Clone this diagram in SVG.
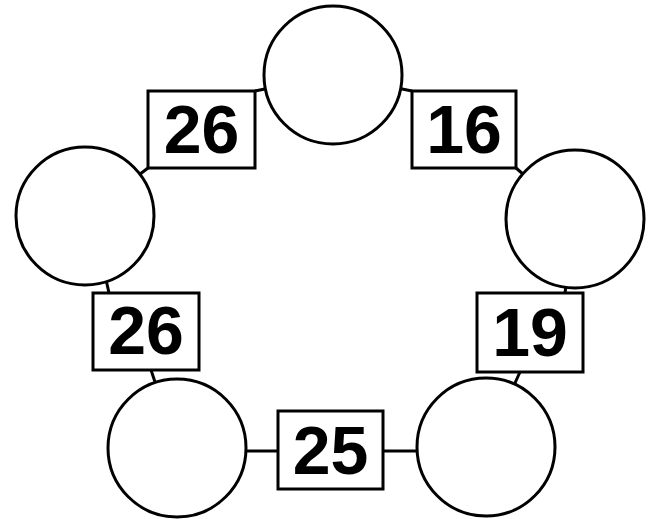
<svg xmlns="http://www.w3.org/2000/svg" width="651" height="519" viewBox="0 0 651 519">
<style>
.c{fill:#fff;stroke:#000;stroke-width:3}
.b{fill:#fff;stroke:#000;stroke-width:3}
.l{stroke:#000;stroke-width:3;fill:none}
.t{font-family:"Liberation Sans",Arial,sans-serif;font-weight:bold;font-size:68px;text-anchor:middle;fill:#000}
</style>
<rect width="651" height="519" fill="#fff"/>
<g id="connectors">
<line class="l" x1="255" y1="91" x2="333" y2="75"/>
<line class="l" x1="148" y1="168" x2="85" y2="216"/>
<line class="l" x1="412" y1="91" x2="333" y2="75"/>
<line class="l" x1="516" y1="168" x2="575" y2="219"/>
<line class="l" x1="109" y1="293" x2="92" y2="216"/>
<line class="l" x1="151" y1="370" x2="177" y2="448"/>
<line class="l" x1="565" y1="293" x2="575" y2="219"/>
<line class="l" x1="520" y1="372" x2="486" y2="447"/>
<line class="l" x1="177" y1="451" x2="486" y2="451"/>
</g>
<g id="n-top"><circle class="c" cx="333" cy="75" r="69"/></g>
<g id="n-left"><circle class="c" cx="85" cy="216" r="69"/></g>
<g id="n-right"><circle class="c" cx="575" cy="219" r="69"/></g>
<g id="n-bottom-left"><circle class="c" cx="177" cy="448" r="69"/></g>
<g id="n-bottom-right"><circle class="c" cx="486" cy="447" r="69"/></g>
<g id="label-26a"><rect class="b" x="148" y="91" width="107" height="77"/><text class="t" x="201.5" y="153">26</text></g>
<g id="label-16"><rect class="b" x="412" y="91" width="104" height="77"/><text class="t" x="464" y="153">16</text></g>
<g id="label-26b"><rect class="b" x="93" y="293" width="106" height="77"/><text class="t" x="146" y="354">26</text></g>
<g id="label-19"><rect class="b" x="477" y="293" width="106" height="79"/><text class="t" x="530" y="356">19</text></g>
<g id="label-25"><rect class="b" x="278" y="411" width="105" height="78"/><text class="t" x="330.5" y="474">25</text></g>
</svg>
